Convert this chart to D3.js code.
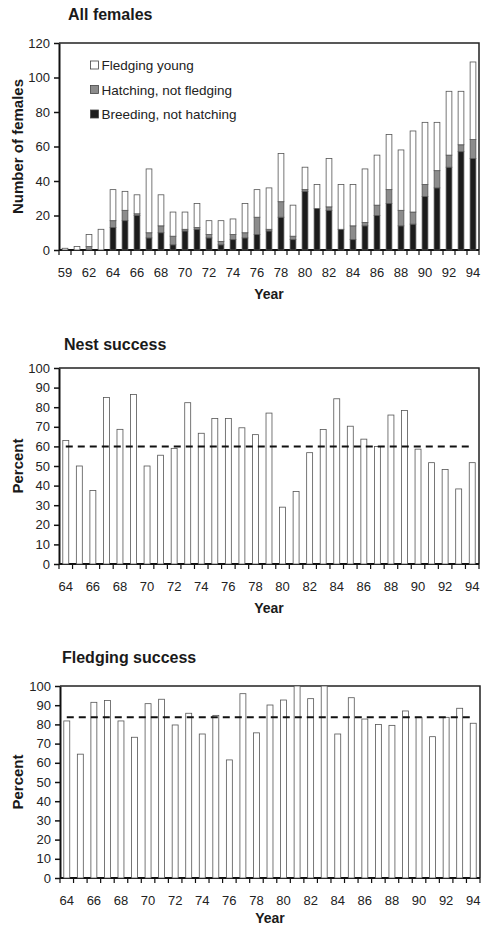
<!DOCTYPE html>
<meta charset="utf-8">
<style>
  body { margin: 0; background: #fff; }
  svg { font-family: "Liberation Sans", Arial, sans-serif; }
  .axis text { font-size: 13px; fill: #222; }
  .axis path, .axis line { stroke: #111; }
  .y.axis path { stroke-width: 2px; }
  .g-title { font-size: 16px; font-weight: bold; fill: #1a1a1a; }
  .g-axis-title { font-size: 15px; font-weight: bold; fill: #1a1a1a; }
  .g-year { font-size: 14px; font-weight: bold; fill: #1a1a1a; }
  .frame { fill: none; stroke: #222; stroke-width: 1.5px; }
  .base { stroke: #111; stroke-width: 2px; }
  .xtick { stroke: #111; stroke-width: 1.2px; }
  .mean { stroke: #111; stroke-width: 2px; stroke-dasharray: 7 5; }
  .legend text { font-size: 13.5px; fill: #222; }
</style>
<body>
<svg id="chart" width="487" height="928"></svg>
<script src="https://d3js.org/d3.v7.min.js"></script>
<script>
// All females: number per year, split by outcome
const topYears = ["59","60","62","63","64","65","66","67","68","69","70","71","72","73","74","75","76","77",
  "78","79","80","81","82","83","84","85","86","87","88","89","90","91","92","93","94"];
const breeding = [0,0,0,0,13,17,20,7,10,3,11,12,7,3,6,7,9,11,19,6,34,24,23,12,6,14,20,27,14,15,31,36,48,57,53];
const hatching = [0,0,2,0,4,6,1,3,4,5,1,1,2,2,3,3,10,1,9,2,1,0,2,0,8,2,6,8,9,7,7,10,7,4,11];
const fledging = [1,2,7,12,18,11,11,37,18,14,10,14,8,12,9,17,16,24,28,18,13,14,28,26,24,31,29,32,35,47,36,28,37,31,45];
const topTicks = [0,20,40,60,80,100,120];
const legendLabels = ["Fledging young", "Hatching, not fledging", "Breeding, not hatching"];

// percent panels
const pctYears = ["64","65","66","67","68","69","70","71","72","73","74","75","76","77","78","79",
  "80","81","82","83","84","85","86","87","88","89","90","91","92","93","94"];
const nestPct = [63,50,37.5,85,68.7,86.5,50,55.5,59,82.3,66.7,74.2,74.2,69.5,66,77,29,37,56.8,68.6,
  84.3,70.3,63.7,60,76,78.3,58.6,51.7,48.2,38.3,51.7];
const nestMean = 60;
const fledgePct = [81.8,64.5,91.5,92.4,81.8,73.3,90.8,93.1,79.7,85.8,75,84.7,61.5,96,75.6,90.1,92.7,100,93.4,100,
  75,93.9,82.8,80,79.5,87,83.7,73.6,83.7,88.4,80.6];
const fledgeMean = 83.7;
const pctTicks = [0,10,20,30,40,50,60,70,80,90,100];

var svg = d3.select("#chart");

// one boxed panel with axes, returns scales
function panel(o) {
  var w = o.right - o.left, h = o.bottom - o.top;
  var g = svg.append("g").attr("transform", "translate(" + o.left + "," + o.top + ")");

  var x = d3.scaleBand().domain(o.years).range([0, w]);
  var y = d3.scaleLinear().domain([0, o.yMax]).range([h, 0]);

  svg.append("text").attr("class", "g-title")
    .attr("x", o.titleX).attr("y", o.titleY).text(o.title);

  // frame top + right
  g.append("path").attr("class", "frame")
    .attr("d", "M0,0H" + w + "V" + h);

  var yAxis = g.append("g").attr("class", "y axis")
    .call(d3.axisLeft(y).tickValues(o.yTicks).tickSize(5).tickPadding(4).tickSizeOuter(0));
  yAxis.selectAll("line").style("stroke-width", "1.5px");

  // x labels every other category
  var xAxis = g.append("g").attr("class", "x axis")
    .attr("transform", "translate(0," + h + ")")
    .call(d3.axisBottom(x).tickSize(0).tickPadding(17.5)
      .tickFormat(function(d, i) { return i % 2 == 0 ? d : ""; }));
  xAxis.select(".domain").remove();

  // ticks between categories
  g.selectAll("line.xtick")
    .data(o.years.concat(["end"]))
    .enter().append("line")
    .attr("class", "xtick")
    .attr("x1", function(d) { return d == "end" ? w : x(d); })
    .attr("x2", function(d) { return d == "end" ? w : x(d); })
    .attr("y1", h).attr("y2", h + 5);

  g.append("line").attr("class", "base")
    .attr("x1", 0).attr("x2", w).attr("y1", h).attr("y2", h);

  g.append("text").attr("class", "g-year")
    .attr("x", w / 2).attr("y", h + o.yearDy)
    .attr("text-anchor", "middle").text("Year");

  svg.append("text").attr("class", "g-axis-title")
    .attr("transform", "translate(23," + (o.top + h / 2) + ") rotate(-90)")
    .attr("text-anchor", "middle").text(o.yLabel);

  return { g: g, x: x, y: y, w: w, h: h };
}

// ---- All females ----
var p1 = panel({ left: 59, right: 479, top: 43, bottom: 250, years: topYears, yMax: 120, yearDy: 49,
  yTicks: topTicks, title: "All females", titleX: 68, titleY: 20, yLabel: "Number of females" });

var table = topYears.map(function(yr, i) {
  return { year: yr, breeding: breeding[i], hatching: hatching[i], fledging: fledging[i] };
});
var keys = ["breeding", "hatching", "fledging"];
var fills = { breeding: "#1c1c1c", hatching: "#8c8c8c", fledging: "#fff" };
var series = d3.stack().keys(keys)(table);
var bw1 = p1.x.bandwidth() * 0.48;

p1.g.selectAll("g.layer")
  .data(series)
  .enter().append("g")
  .attr("class", "layer")
  .attr("fill", function(d) { return fills[d.key]; })
  .selectAll("rect")
  .data(function(d) { return d.filter(function(s) { return s[1] > s[0]; }); })
  .enter().append("rect")
  .attr("x", function(d) { return p1.x(d.data.year) + (p1.x.bandwidth() - bw1) / 2; })
  .attr("width", bw1)
  .attr("y", function(d) { return p1.y(d[1]); })
  .attr("height", function(d) { return p1.y(d[0]) - p1.y(d[1]); })
  .style("stroke", "#555")
  .style("stroke-width", 0.8);

// legend
var legend = svg.append("g").attr("class", "legend");
var legendKeys = ["fledging", "hatching", "breeding"];
legendLabels.forEach(function(lab, i) {
  var ly = 65.5 + i * 24.5;
  legend.append("rect").attr("x", 90.5).attr("y", ly - 4.5).attr("width", 8).attr("height", 8)
    .attr("fill", fills[legendKeys[i]]).attr("stroke", "#444").attr("stroke-width", 0.8);
  legend.append("text").attr("x", 101.5).attr("y", ly + 4.8).text(lab);
});

// ---- percent panels ----
function pctBars(p, vals, mean) {
  var bw = p.x.bandwidth() * 0.44;
  p.g.selectAll("rect.bar")
    .data(pctYears)
    .enter().append("rect")
    .attr("class", "bar")
    .attr("x", function(d) { return p.x(d) + (p.x.bandwidth() - bw) / 2; })
    .attr("width", bw)
    .attr("y", function(d, i) { return p.y(vals[i]); })
    .attr("height", function(d, i) { return p.y(0) - p.y(vals[i]); })
    .attr("fill", "#fff")
    .style("stroke", "#555")
    .style("stroke-width", 0.8);

  p.g.append("line").attr("class", "mean")
    .attr("x1", p.x(pctYears[0]) + p.x.bandwidth() / 2)
    .attr("x2", p.x(pctYears[pctYears.length - 1]) + p.x.bandwidth() / 2)
    .attr("y1", p.y(mean)).attr("y2", p.y(mean));
}

var p2 = panel({ left: 59, right: 479, top: 368, bottom: 564, years: pctYears, yMax: 100, yearDy: 49,
  yTicks: pctTicks, title: "Nest success", titleX: 64, titleY: 350, yLabel: "Percent" });
pctBars(p2, nestPct, nestMean);

var p3 = panel({ left: 60, right: 480, top: 686, bottom: 878, years: pctYears, yMax: 100, yearDy: 45,
  yTicks: pctTicks, title: "Fledging success", titleX: 62, titleY: 663, yLabel: "Percent" });
pctBars(p3, fledgePct, fledgeMean);
</script>
</body>
